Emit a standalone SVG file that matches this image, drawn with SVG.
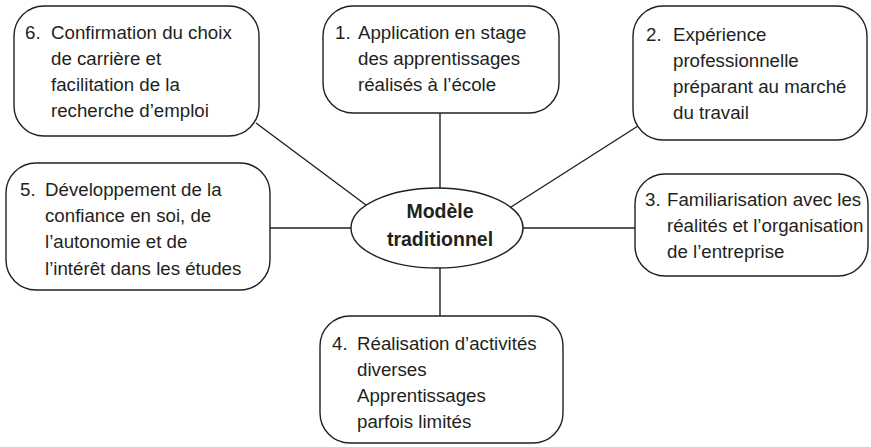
<svg xmlns="http://www.w3.org/2000/svg" width="871" height="447" viewBox="0 0 871 447">
<style>
.box{fill:#fff;stroke:#231f20;stroke-width:1.4}
.t{font-family:"Liberation Sans","DejaVu Sans",sans-serif;font-size:18.7px;fill:#231f20}
.c{font-family:"Liberation Sans","DejaVu Sans",sans-serif;font-size:19.5px;font-weight:bold;fill:#231f20;text-anchor:middle}
.ln{stroke:#231f20;stroke-width:1.4;fill:none}
</style>
<rect width="871" height="447" fill="#fff"/>
<g id="connectors">
<line class="ln" x1="440" y1="113" x2="440" y2="188"/>
<line class="ln" x1="440" y1="268" x2="440" y2="316"/>
<line class="ln" x1="270" y1="228" x2="351" y2="228"/>
<line class="ln" x1="523" y1="228" x2="635" y2="228"/>
<line class="ln" x1="256" y1="123" x2="366" y2="205"/>
<line class="ln" x1="511" y1="207" x2="638" y2="126"/>
</g>
<g id="center">
<ellipse class="box" cx="437" cy="228" rx="86" ry="40"/>
<text class="c" x="440" y="218">Modèle</text>
<text class="c" x="440" y="246">traditionnel</text>
</g>
<g id="node6">
<rect class="box" x="14" y="6" width="245" height="130" rx="30"/>
<text class="t" x="25" y="39">6.</text>
<text class="t" x="51" y="39">Confirmation du choix</text>
<text class="t" x="51" y="65">de carrière et</text>
<text class="t" x="51" y="91">facilitation de la</text>
<text class="t" x="51" y="117">recherche d’emploi</text>
</g>
<g id="node1">
<rect class="box" x="323" y="6" width="236" height="107" rx="30"/>
<text class="t" x="335" y="39">1.</text>
<text class="t" x="358" y="39">Application en stage</text>
<text class="t" x="358" y="65">des apprentissages</text>
<text class="t" x="358" y="91">réalisés à l’école</text>
</g>
<g id="node2">
<rect class="box" x="633" y="6" width="234" height="134" rx="30"/>
<text class="t" x="646" y="41">2.</text>
<text class="t" x="673" y="41">Expérience</text>
<text class="t" x="673" y="67">professionnelle</text>
<text class="t" x="673" y="93">préparant au marché</text>
<text class="t" x="673" y="119">du travail</text>
</g>
<g id="node3">
<rect class="box" x="635" y="174" width="233" height="102" rx="30"/>
<text class="t" x="645" y="206">3.</text>
<text class="t" x="667" y="206">Familiarisation avec les</text>
<text class="t" x="667" y="232">réalités et l’organisation</text>
<text class="t" x="667" y="258">de l’entreprise</text>
</g>
<g id="node5">
<rect class="box" x="6" y="163" width="264" height="127" rx="30"/>
<text class="t" x="20" y="196">5.</text>
<text class="t" x="45" y="196">Développement de la</text>
<text class="t" x="45" y="222">confiance en soi, de</text>
<text class="t" x="45" y="248">l’autonomie et de</text>
<text class="t" x="45" y="275">l’intérêt dans les études</text>
</g>
<g id="node4">
<rect class="box" x="320" y="316" width="243" height="127" rx="30"/>
<text class="t" x="332" y="350">4.</text>
<text class="t" x="357" y="350">Réalisation d’activités</text>
<text class="t" x="357" y="376">diverses</text>
<text class="t" x="357" y="402">Apprentissages</text>
<text class="t" x="357" y="428">parfois limités</text>
</g>
</svg>
